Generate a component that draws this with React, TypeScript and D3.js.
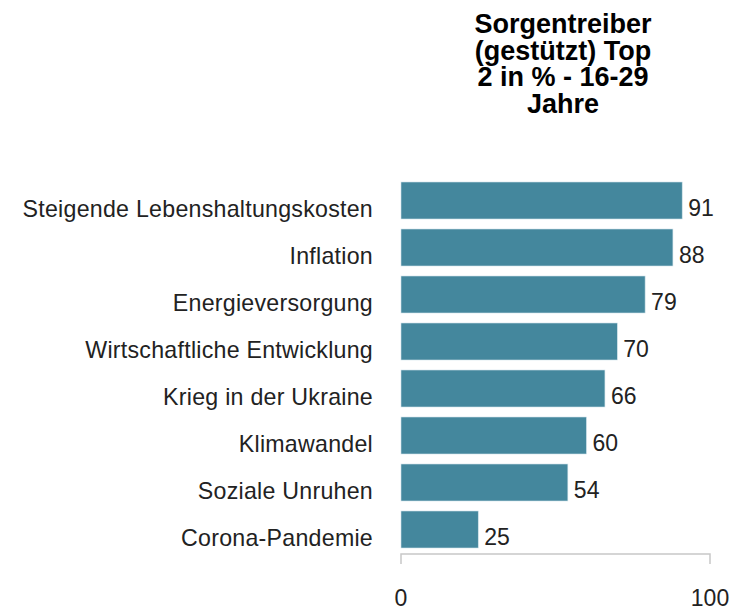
import React from 'react';
import * as d3 from 'd3';

const categories = [
  'Steigende Lebenshaltungskosten',
  'Inflation',
  'Energieversorgung',
  'Wirtschaftliche Entwicklung',
  'Krieg in der Ukraine',
  'Klimawandel',
  'Soziale Unruhen',
  'Corona-Pandemie',
];
const values = [91, 88, 79, 70, 66, 60, 54, 25];
const xTicks = [0, 100];
const titleLines = ['Sorgentreiber', '(gestützt) Top', '2 in % - 16-29', 'Jahre'];

const W = 731;
const H = 610;
const FONT = 'Arial, "Liberation Sans", sans-serif';

export default function App() {
  // scales
  const x = d3.scaleLinear().domain([0, 100]).range([401, 710]);
  const y = d3.scaleBand<string>()
    .domain(categories)
    .range([177, 553])
    .paddingInner(0.213)
    .paddingOuter(0.1065);

  const axisY = 554;

  return (
    <svg width={W} height={H} style={{ position: 'absolute', left: 0, top: 0, background: '#fff' }}>
      {/* title */}
      <g fontFamily={FONT} fontWeight="bold" fontSize={27} textAnchor="middle" fill="#000">
        {titleLines.map((t, i) => (
          <text key={t} x={563} y={33 + i * 26.7}>{t}</text>
        ))}
      </g>

      {/* bars */}
      {categories.map((c, i) => (
        <rect
          key={c}
          x={x(0)}
          y={y(c)}
          width={x(values[i]) - x(0)}
          height={y.bandwidth()}
          fill="#44879d"
          stroke="#cfe2e9"
          strokeWidth={0.6}
        />
      ))}

      {/* category labels */}
      <g fontFamily={FONT} fontSize={23.2} letterSpacing={0.25} fill="#222" textAnchor="end">
        {categories.map(c => (
          <text key={c} x={373} y={(y(c) ?? 0) + y.bandwidth() / 2 + 16}>{c}</text>
        ))}
      </g>

      {/* value labels */}
      <g fontFamily={FONT} fontSize={23} fill="#222">
        {categories.map((c, i) => (
          <text key={c} x={x(values[i]) + 6} y={(y(c) ?? 0) + y.bandwidth() - 2.5}>{values[i]}</text>
        ))}
      </g>

      {/* x axis */}
      <g stroke="#c8c8c8" strokeWidth={1.5} fill="none">
        <path d={`M${x(0)},${axisY + 10}V${axisY}H${x(100)}V${axisY + 10}`} />
      </g>
      <g fontFamily={FONT} fontSize={23} fill="#222" textAnchor="middle">
        {xTicks.map(t => (
          <text key={t} x={x(t)} y={606}>{t}</text>
        ))}
      </g>
    </svg>
  );
}
